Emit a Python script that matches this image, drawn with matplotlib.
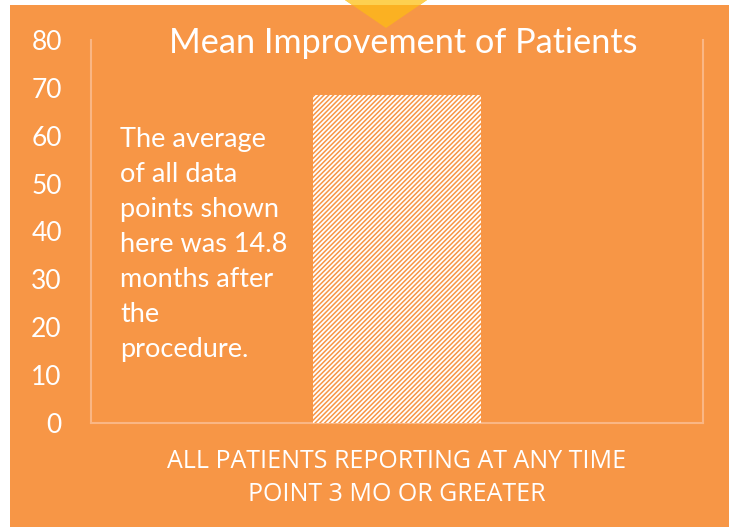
import matplotlib
matplotlib.use("Agg")
import matplotlib.pyplot as plt
from matplotlib.patches import Rectangle, Polygon

categories = ["ALL PATIENTS REPORTING AT ANY TIME\nPOINT 3 MO OR GREATER"]
values = [68.5]
yticks = [0, 10, 20, 30, 40, 50, 60, 70, 80]
title = "Mean Improvement of Patients"
note = "The average\nof all data\npoints shown\nhere was 14.8\nmonths after\nthe\nprocedure."

ORANGE = "#F79646"
FONT = ["Lato", "DejaVu Sans"]
plt.rcParams['font.family'] = FONT
plt.rcParams['hatch.linewidth'] = 1.1

W, H = 729, 527
fig = plt.figure(figsize=(W / 100, H / 100), dpi=100)
fig.patch.set_facecolor("white")

# orange background panel
fig.patches.append(Rectangle((10 / W, 0), 1 - 10 / W, 1 - 5 / H, transform=fig.transFigure,
                             facecolor=ORANGE, edgecolor="none", zorder=-5))
# decorative triangle
fig.patches.append(Polygon([(345 / W, 1), (427 / W, 1), (386 / W, 1 - 28 / H)], closed=True,
                           transform=fig.transFigure, facecolor="#FBB122", edgecolor="none", zorder=-4))
fig.patches.append(Polygon([(345 / W, 1), (427 / W, 1), (420 / W, 1 - 5 / H), (352 / W, 1 - 5 / H)],
                           closed=True, transform=fig.transFigure, facecolor="#FDD050",
                           edgecolor="none", zorder=-4))

ax = fig.add_axes([91 / W, 1 - 423 / H, (703 - 91) / W, (423 - 40) / H])
ax.set_zorder(5)
ax.set_facecolor("none")
x = list(range(len(categories)))
ax.bar(x, values, width=0.273, facecolor="white", edgecolor=ORANGE, hatch="///////", linewidth=0, zorder=3)
ax.set_xlim(-0.5, 0.5)
ax.set_ylim(0, 80)
ax.set_yticks(yticks)
ax.set_yticklabels([str(v) for v in yticks], color="white", fontsize=19)
ax.set_xticks(x)
ax.set_xticklabels(categories, color="white", fontsize=18, linespacing=1.4,
                   family=["Open Sans", "DejaVu Sans"])
ax.tick_params(axis="both", length=0)
ax.tick_params(axis="y", pad=21)
ax.tick_params(axis="x", pad=19)
for s in ["left", "right", "bottom"]:
    ax.spines[s].set_color("#FAB684")
    ax.spines[s].set_linewidth(1.5)
ax.spines["top"].set_visible(False)

fig.text(403 / W, 1 - 43 / H, title, color="white", fontsize=24.7, ha="center", va="center", zorder=6)
fig.text(120 / W, 1 - 127 / H, note, color="white", fontsize=19.5, ha="left", va="top",
         linespacing=1.5, zorder=6)

fig.savefig("out.png", dpi=100)
